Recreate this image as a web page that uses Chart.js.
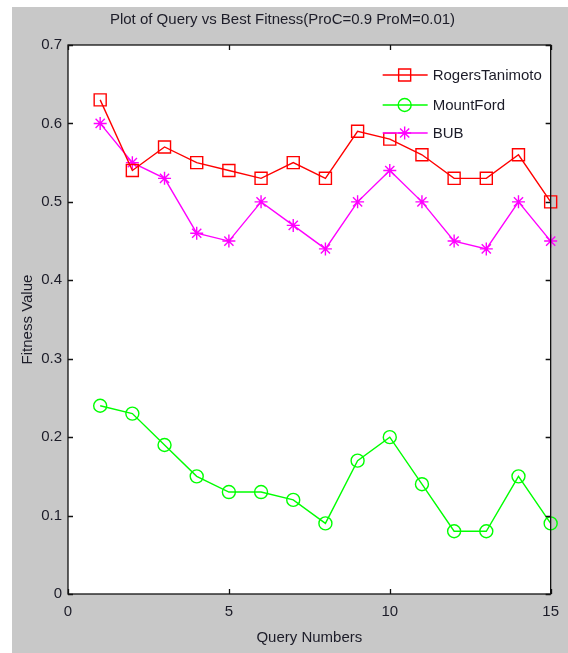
<!DOCTYPE html>
<html>
<head>
<meta charset="utf-8">
<script src="https://cdn.jsdelivr.net/npm/chart.js@4.4.1/dist/chart.umd.min.js"></script>
<style>
  html, body { margin: 0; padding: 0; background: #ffffff; }
  #figure {
    position: absolute;
    left: 12px;
    top: 7px;
    width: 556px;
    height: 646px;
    background: #c8c8c8;
  }
  canvas { display: block; }
</style>
</head>
<body>
<div id="figure"><canvas id="fitnessChart" width="556" height="646"></canvas></div>
<script>
// Values
const queryNumbers = [1, 2, 3, 4, 5, 6, 7, 8, 9, 10, 11, 12, 13, 14, 15];
const rogersTanimoto = [0.63, 0.54, 0.57, 0.55, 0.54, 0.53, 0.55, 0.53, 0.59, 0.58, 0.56, 0.53, 0.53, 0.56, 0.50];
const mountFord = [0.24, 0.23, 0.19, 0.15, 0.13, 0.13, 0.12, 0.09, 0.17, 0.20, 0.14, 0.08, 0.08, 0.15, 0.09];
const bub = [0.60, 0.55, 0.53, 0.46, 0.45, 0.50, 0.47, 0.44, 0.50, 0.54, 0.50, 0.45, 0.44, 0.50, 0.45];
const xTicks = [0, 5, 10, 15];
const yTicks = [0, 0.1, 0.2, 0.3, 0.4, 0.5, 0.6, 0.7];

const FONT = '"Liberation Sans", Arial, sans-serif';
const FONT_SIZE = 15;
const TEXT_COLOR = '#1c1c28';

function toPoints(values) {
  return values.map((v, i) => ({ x: queryNumbers[i], y: v }));
}

function series(label, values, color, style, radius) {
  return {
    label,
    data: toPoints(values),
    borderColor: color,
    backgroundColor: 'rgba(0,0,0,0)',
    borderWidth: 1.4,
    pointStyle: style,
    pointRadius: radius,
    pointBorderWidth: 1.4,
    pointBorderColor: color,
    pointBackgroundColor: 'rgba(0,0,0,0)',
    tension: 0,
    clip: false
  };
}

// White axes box, black frame with inward ticks on all four sides
const axesBox = {
  id: 'axesBox',
  beforeDatasetsDraw(chart) {
    const { ctx, chartArea: a } = chart;
    ctx.save();
    ctx.fillStyle = '#ffffff';
    ctx.fillRect(a.left, a.top, a.right - a.left, a.bottom - a.top);
    ctx.restore();
  },
  afterDatasetsDraw(chart) {
    const { ctx, chartArea: a, scales } = chart;
    const tick = 5;
    ctx.save();
    ctx.strokeStyle = '#111111';
    ctx.lineWidth = 1.3;
    ctx.strokeRect(a.left, a.top, a.right - a.left, a.bottom - a.top);
    ctx.beginPath();
    scales.x.ticks.forEach(t => {
      const px = Math.round(scales.x.getPixelForValue(t.value)) + 0.5;
      ctx.moveTo(px, a.bottom); ctx.lineTo(px, a.bottom - tick);
      ctx.moveTo(px, a.top); ctx.lineTo(px, a.top + tick);
    });
    scales.y.ticks.forEach(t => {
      const py = Math.round(scales.y.getPixelForValue(t.value)) + 0.5;
      ctx.moveTo(a.left, py); ctx.lineTo(a.left + tick, py);
      ctx.moveTo(a.right, py); ctx.lineTo(a.right - tick, py);
    });
    ctx.stroke();
    ctx.restore();
  }
};

// MATLAB-style legend inside the axes, line with marker in the middle
const insideLegend = {
  id: 'insideLegend',
  afterDraw(chart) {
    const { ctx, chartArea: a } = chart;
    const x0 = a.right - 168;
    const rows = [30, 60, 88];
    ctx.save();
    ctx.font = FONT_SIZE + 'px ' + FONT;
    ctx.textBaseline = 'middle';
    chart.data.datasets.forEach((ds, i) => {
      const y = a.top + rows[i];
      ctx.strokeStyle = ds.borderColor;
      ctx.lineWidth = 1.4;
      ctx.beginPath();
      ctx.moveTo(x0, y);
      ctx.lineTo(x0 + 45, y);
      ctx.stroke();
      ctx.fillStyle = 'rgba(0,0,0,0)';
      Chart.helpers.drawPoint(ctx, { pointStyle: ds.pointStyle, radius: ds.pointRadius, borderWidth: 1.4 }, x0 + 22, y);
      ctx.fillStyle = TEXT_COLOR;
      ctx.fillText(ds.label, x0 + 50, y + 1);
    });
    ctx.restore();
  }
};

const ctx = document.getElementById('fitnessChart').getContext('2d');
new Chart(ctx, {
  type: 'line',
  data: {
    datasets: [
      series('RogersTanimoto', rogersTanimoto, '#ff0000', 'rect', 8.5),
      series('MountFord', mountFord, '#00ff00', 'circle', 6.5),
      series('BUB', bub, '#ff00ff', 'star', 6.5)
    ]
  },
  options: {
    responsive: false,
    animation: false,
    devicePixelRatio: 1,
    layout: { padding: { top: 0, right: 15, bottom: 0, left: 0 } },
    plugins: {
      legend: { display: false },
      tooltip: { enabled: false },
      title: {
        display: true,
        text: 'Plot of Query vs Best Fitness(ProC=0.9 ProM=0.01)',
        color: TEXT_COLOR,
        font: { family: FONT, size: FONT_SIZE, weight: 'normal' },
        padding: { top: 4, bottom: 16 }
      }
    },
    scales: {
      x: {
        type: 'linear',
        min: 0,
        max: 15,
        afterBuildTicks: s => { s.ticks = xTicks.map(v => ({ value: v })); },
        afterFit: s => { s.height = 59; },
        grid: { display: false, drawTicks: false },
        border: { display: false },
        ticks: { color: TEXT_COLOR, padding: 9, maxRotation: 0, font: { family: FONT, size: FONT_SIZE } },
        title: {
          display: true,
          text: 'Query Numbers',
          color: TEXT_COLOR,
          font: { family: FONT, size: FONT_SIZE },
          padding: { top: 0, bottom: 6 }
        }
      },
      y: {
        type: 'linear',
        min: 0,
        max: 0.7,
        afterBuildTicks: s => { s.ticks = yTicks.map(v => ({ value: v })); },
        afterFit: s => { s.width = 56; },
        grid: { display: false, drawTicks: false },
        border: { display: false },
        ticks: {
          color: TEXT_COLOR,
          padding: 6,
          font: { family: FONT, size: FONT_SIZE },
          callback: v => String(Math.round(v * 10) / 10)
        },
        title: {
          display: true,
          text: 'Fitness Value',
          color: TEXT_COLOR,
          font: { family: FONT, size: FONT_SIZE },
          padding: { top: 7, bottom: 0 }
        }
      }
    }
  },
  plugins: [axesBox, insideLegend]
});
</script>
</body>
</html>
